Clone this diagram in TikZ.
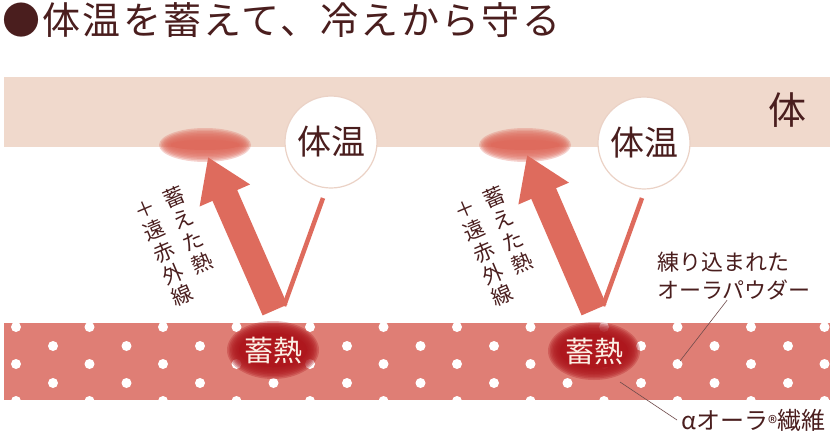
\documentclass[tikz,border=0pt]{standalone}
\usepackage{fontspec}
\setmainfont{Noto Sans CJK JP}
\usetikzlibrary{arrows.meta}
\definecolor{textBrown}{HTML}{4A1E1E}
\definecolor{skinBand}{HTML}{F0D9CC}
\definecolor{heatRed}{HTML}{DE6B5D}
\definecolor{fabricPink}{HTML}{DF7E75}
\definecolor{coreRed}{HTML}{AE171D}
\definecolor{ringPink}{HTML}{EBD2C6}
\definecolor{creamWhite}{HTML}{FBEFE4}
\newcommand{\fs}[1]{\fontsize{#1}{#1}\selectfont}
% soft spot: centre, x radius, y radius, colour
\newcommand{\glowSpot}[4]{%
  \foreach \k in {0,...,8}{
    \fill[#4, opacity=0.3] (#1) ellipse ({#2+6-1.5*\k} and {#3+6-1.5*\k});
  }
  \fill[#4] (#1) ellipse ({#2-6} and {#3-6});
}

\begin{document}
\begin{tikzpicture}[x=1pt,y=-1pt]
  \tikzset{
    every node/.style={inner sep=0pt, text=textBrown},
    bodytemp/.style={circle, fill=white, draw=ringPink, line width=1.2pt, minimum size=92pt, font=\fs{34}},
    heatarrow/.style={heatRed, line width=27pt, -{Triangle[width=52pt,length=42pt]}},
    reflectline/.style={heatRed, line width=4.5pt},
    vlabel/.style={align=center, rotate=23, font=\fontsize{21}{23.6}\selectfont},
    storelabel/.style={font=\fs{29}, text=creamWhite},
    leader/.style={draw=textBrown!80, line width=0.6pt}
  }
  \useasboundingbox (0,0) rectangle (835,431);
  % title
  \node[anchor=west, font=\fs{38}\addfontfeature{LetterSpace=6}] (title) at (2,20) {●体温を蓄えて、冷えから守る};
  % body layer
  \fill[skinBand] (4,77) rectangle (830,147);
  \node[font=\fs{38}] (body) at (787,110) {体};
  \glowSpot{205,145}{40}{11}{heatRed}
  \glowSpot{525,145}{40}{11}{heatRed}
  \node[bodytemp] (temp1) at (331,142) {体温};
  \node[bodytemp] (temp2) at (644,143) {体温};
  % heat going back up
  \coordinate (base1) at (275,310);
  \coordinate (tip1) at (208,157);
  \coordinate (base2) at (594,310);
  \coordinate (tip2) at (527,155);
  \coordinate (in1) at (323,198);
  \coordinate (v1) at (284,306);
  \coordinate (in2) at (642,198);
  \coordinate (v2) at (603,306);
  \draw[reflectline] (in1) -- (v1);
  \draw[reflectline] (in2) -- (v2);
  \draw[heatarrow] (base1) -- (tip1);
  \draw[heatarrow] (base2) -- (tip2);
  \node[vlabel] (heat1) at (188,230) {蓄\\え\\た\\熱};
  \node[vlabel] (far1) at (164,253) {＋\\遠\\赤\\外\\線};
  \node[vlabel] (heat2) at (508,230) {蓄\\え\\た\\熱};
  \node[vlabel] (far2) at (484,253) {＋\\遠\\赤\\外\\線};
  % fabric with powder dots
  \begin{scope}
    \clip (4,323) rectangle (830,400);
    \fill[fabricPink] (4,323) rectangle (830,400);
    \foreach \col in {0,...,11}{
      \foreach \row in {327,364,401} \fill[white] ({16+73.5*\col},\row) circle (5);
    }
    \foreach \col in {0,...,10}{
      \foreach \row in {346,383} \fill[white] ({53+73.5*\col},\row) circle (5);
    }
  \end{scope}
  \glowSpot{273,350}{40}{23}{coreRed}
  \glowSpot{594,351}{40}{23}{coreRed}
  \node[storelabel] (store1) at (273,350) {蓄熱};
  \node[storelabel] (store2) at (594,351) {蓄熱};
  % callouts
  \node[anchor=west, align=left, font=\fontsize{22}{28}\selectfont] (powder) at (657,276) {練り込まれた\\オーラパウダー};
  \coordinate (powderdot) at (680,361);
  \draw[leader] ([xshift=-7pt]powder.south) -- (powderdot);
  \node[anchor=west, font=\fs{24}] (fiber) at (681,420) {αオーラ\raisebox{-1pt}{\fs{19}®}繊維};
  \coordinate (fiberpt) at (620,382);
  \draw[leader] (fiberpt) -- ([xshift=-4pt]fiber.west);
\end{tikzpicture}
\end{document}
